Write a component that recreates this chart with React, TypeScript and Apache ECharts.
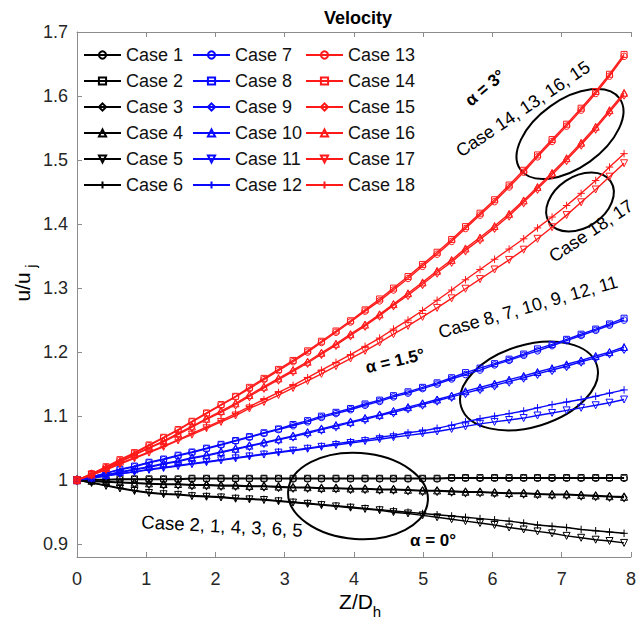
import React, { useEffect, useRef } from 'react';
import * as echarts from 'echarts';

// Z/Dh positions of the plotted points
const zValues = [0, 0.21, 0.42, 0.62, 0.83, 1.04, 1.25, 1.46, 1.66, 1.87, 2.08, 2.29, 2.49, 2.70, 2.91, 3.12, 3.33, 3.53, 3.74, 3.95, 4.16, 4.37, 4.57, 4.78, 4.99, 5.20, 5.41, 5.61, 5.82, 6.03, 6.24, 6.45, 6.65, 6.86, 7.07, 7.28, 7.49, 7.69, 7.90];

// alpha = 0 deg (black)
const case1 = [1.000, 1.000, 1.000, 1.001, 1.001, 1.001, 1.001, 1.001, 1.002, 1.002, 1.002, 1.002, 1.002, 1.002, 1.002, 1.002, 1.002, 1.002, 1.002, 1.002, 1.002, 1.002, 1.002, 1.002, 1.002, 1.002, 1.003, 1.003, 1.003, 1.003, 1.003, 1.003, 1.003, 1.003, 1.003, 1.003, 1.003, 1.003, 1.003];
const case2 = [1.000, 1.001, 1.001, 1.002, 1.002, 1.002, 1.002, 1.002, 1.003, 1.003, 1.003, 1.003, 1.003, 1.003, 1.003, 1.003, 1.003, 1.003, 1.003, 1.003, 1.003, 1.003, 1.003, 1.003, 1.003, 1.003, 1.004, 1.004, 1.004, 1.004, 1.004, 1.004, 1.004, 1.004, 1.004, 1.004, 1.004, 1.004, 1.004];
const case3 = [1.000, 0.998, 0.997, 0.996, 0.995, 0.994, 0.993, 0.993, 0.992, 0.992, 0.991, 0.991, 0.990, 0.990, 0.989, 0.988, 0.988, 0.987, 0.987, 0.986, 0.986, 0.985, 0.985, 0.984, 0.983, 0.983, 0.982, 0.981, 0.981, 0.980, 0.979, 0.979, 0.978, 0.977, 0.977, 0.976, 0.975, 0.974, 0.973];
const case4 = [1.000, 0.999, 0.998, 0.997, 0.996, 0.995, 0.994, 0.994, 0.993, 0.993, 0.992, 0.992, 0.991, 0.991, 0.990, 0.989, 0.989, 0.988, 0.988, 0.987, 0.987, 0.986, 0.986, 0.985, 0.984, 0.984, 0.983, 0.982, 0.982, 0.981, 0.980, 0.980, 0.979, 0.978, 0.978, 0.977, 0.976, 0.975, 0.974];
const case5 = [1.000, 0.996, 0.991, 0.987, 0.983, 0.980, 0.978, 0.977, 0.975, 0.974, 0.973, 0.971, 0.970, 0.969, 0.967, 0.965, 0.963, 0.961, 0.959, 0.957, 0.955, 0.953, 0.950, 0.948, 0.945, 0.942, 0.939, 0.936, 0.933, 0.930, 0.926, 0.923, 0.920, 0.917, 0.913, 0.910, 0.907, 0.905, 0.902];
const case6 = [1.000, 0.996, 0.992, 0.988, 0.984, 0.981, 0.979, 0.978, 0.976, 0.975, 0.974, 0.972, 0.971, 0.970, 0.968, 0.966, 0.964, 0.962, 0.960, 0.958, 0.956, 0.954, 0.952, 0.950, 0.948, 0.946, 0.944, 0.942, 0.940, 0.938, 0.936, 0.933, 0.930, 0.928, 0.926, 0.923, 0.921, 0.919, 0.917];

// alpha = 1.5 deg (blue)
const case7 = [1.000, 1.005, 1.011, 1.016, 1.021, 1.027, 1.032, 1.038, 1.043, 1.049, 1.055, 1.061, 1.067, 1.073, 1.079, 1.085, 1.091, 1.098, 1.104, 1.110, 1.117, 1.123, 1.130, 1.136, 1.143, 1.150, 1.158, 1.165, 1.172, 1.180, 1.187, 1.195, 1.202, 1.210, 1.218, 1.226, 1.234, 1.242, 1.250];
const case8 = [1.000, 1.005, 1.011, 1.017, 1.022, 1.028, 1.033, 1.039, 1.044, 1.050, 1.056, 1.062, 1.068, 1.074, 1.080, 1.087, 1.093, 1.100, 1.106, 1.112, 1.119, 1.125, 1.132, 1.138, 1.145, 1.152, 1.160, 1.168, 1.175, 1.182, 1.189, 1.197, 1.205, 1.212, 1.220, 1.228, 1.236, 1.244, 1.253];
const case9 = [1.000, 1.004, 1.008, 1.012, 1.016, 1.020, 1.025, 1.029, 1.034, 1.038, 1.043, 1.048, 1.053, 1.058, 1.063, 1.068, 1.073, 1.079, 1.084, 1.090, 1.095, 1.101, 1.106, 1.112, 1.118, 1.124, 1.130, 1.136, 1.142, 1.148, 1.154, 1.160, 1.166, 1.172, 1.178, 1.185, 1.191, 1.198, 1.205];
const case10 = [1.000, 1.004, 1.008, 1.013, 1.017, 1.021, 1.026, 1.030, 1.035, 1.039, 1.044, 1.049, 1.054, 1.059, 1.064, 1.069, 1.075, 1.080, 1.086, 1.091, 1.097, 1.102, 1.108, 1.114, 1.120, 1.126, 1.132, 1.139, 1.145, 1.151, 1.157, 1.163, 1.169, 1.175, 1.181, 1.187, 1.194, 1.200, 1.208];
const case11 = [1.000, 1.003, 1.007, 1.010, 1.013, 1.016, 1.019, 1.022, 1.025, 1.028, 1.031, 1.034, 1.037, 1.040, 1.043, 1.046, 1.049, 1.052, 1.055, 1.058, 1.061, 1.064, 1.067, 1.070, 1.073, 1.076, 1.080, 1.084, 1.088, 1.091, 1.094, 1.097, 1.101, 1.105, 1.109, 1.113, 1.117, 1.121, 1.126];
const case12 = [1.000, 1.003, 1.007, 1.010, 1.013, 1.017, 1.020, 1.023, 1.026, 1.029, 1.032, 1.035, 1.038, 1.041, 1.044, 1.047, 1.050, 1.053, 1.057, 1.060, 1.063, 1.067, 1.070, 1.074, 1.077, 1.081, 1.086, 1.091, 1.096, 1.100, 1.104, 1.108, 1.113, 1.118, 1.122, 1.126, 1.131, 1.136, 1.141];

// alpha = 3 deg (red)
const case13 = [1.000, 1.010, 1.020, 1.031, 1.042, 1.054, 1.066, 1.078, 1.091, 1.104, 1.117, 1.130, 1.143, 1.157, 1.171, 1.185, 1.200, 1.215, 1.231, 1.247, 1.264, 1.280, 1.297, 1.315, 1.334, 1.353, 1.373, 1.393, 1.414, 1.435, 1.458, 1.481, 1.505, 1.529, 1.553, 1.578, 1.604, 1.631, 1.662];
const case14 = [1.000, 1.010, 1.021, 1.032, 1.043, 1.055, 1.067, 1.079, 1.092, 1.105, 1.118, 1.131, 1.145, 1.159, 1.173, 1.187, 1.202, 1.217, 1.233, 1.249, 1.266, 1.283, 1.300, 1.318, 1.337, 1.356, 1.376, 1.396, 1.417, 1.438, 1.461, 1.484, 1.508, 1.532, 1.556, 1.581, 1.607, 1.634, 1.665];
const case15 = [1.000, 1.009, 1.018, 1.028, 1.039, 1.050, 1.060, 1.071, 1.083, 1.095, 1.106, 1.118, 1.131, 1.144, 1.157, 1.170, 1.183, 1.197, 1.211, 1.226, 1.241, 1.257, 1.273, 1.289, 1.306, 1.324, 1.341, 1.359, 1.376, 1.394, 1.413, 1.434, 1.455, 1.477, 1.500, 1.524, 1.549, 1.575, 1.602];
const case16 = [1.000, 1.009, 1.019, 1.029, 1.040, 1.051, 1.061, 1.073, 1.084, 1.096, 1.108, 1.120, 1.133, 1.146, 1.159, 1.172, 1.185, 1.199, 1.213, 1.228, 1.243, 1.259, 1.275, 1.292, 1.309, 1.327, 1.344, 1.362, 1.379, 1.397, 1.416, 1.437, 1.458, 1.480, 1.503, 1.527, 1.552, 1.578, 1.605];
const case17 = [1.000, 1.008, 1.016, 1.025, 1.034, 1.043, 1.052, 1.062, 1.071, 1.081, 1.091, 1.101, 1.112, 1.122, 1.133, 1.144, 1.155, 1.166, 1.178, 1.190, 1.202, 1.215, 1.228, 1.241, 1.255, 1.269, 1.284, 1.299, 1.314, 1.329, 1.344, 1.360, 1.377, 1.395, 1.414, 1.434, 1.454, 1.474, 1.495];
const case18 = [1.000, 1.008, 1.017, 1.026, 1.035, 1.044, 1.053, 1.063, 1.073, 1.083, 1.093, 1.104, 1.115, 1.126, 1.137, 1.148, 1.160, 1.172, 1.184, 1.196, 1.209, 1.222, 1.236, 1.250, 1.265, 1.281, 1.297, 1.313, 1.329, 1.345, 1.361, 1.377, 1.394, 1.411, 1.429, 1.448, 1.468, 1.489, 1.510];

const caseNames = ['Case 1', 'Case 2', 'Case 3', 'Case 4', 'Case 5', 'Case 6', 'Case 7', 'Case 8', 'Case 9', 'Case 10', 'Case 11', 'Case 12', 'Case 13', 'Case 14', 'Case 15', 'Case 16', 'Case 17', 'Case 18'];
const caseValues = [case1, case2, case3, case4, case5, case6, case7, case8, case9, case10, case11, case12, case13, case14, case15, case16, case17, case18];

const xTicks = [0, 8];
const yRange = [0.88, 1.7];

const FONT = "'Liberation Sans', Arial, Helvetica, sans-serif";
const groupColors = ['#000000', '#0a0aff', '#ff1a1a'];
const PLUS = 'path://M5,0L5,10M0,5L10,5';
const DOWN = 'path://M0,0L10,0L5,9Z';
const markerShapes = ['circle', 'rect', 'diamond', 'triangle', DOWN, PLUS];
const markerSizes: any[] = [6.5, 6, [6, 8.5], 7, 7, 7.5];

function txt(text: string, x: number, y: number, deg: number, size: number, bold = false) {
  return {
    type: 'text',
    x,
    y,
    rotation: (deg * Math.PI) / 180,
    silent: true,
    style: {
      text,
      x: 0,
      y: 0,
      font: `${bold ? 'bold ' : ''}${size}px ${FONT}`,
      fill: '#000',
      align: 'center',
      verticalAlign: 'middle',
      textAlign: 'center',
      textVerticalAlign: 'middle',
    },
  };
}

function ell(cx: number, cy: number, rx: number, ry: number, deg: number) {
  return {
    type: 'ellipse',
    x: cx,
    y: cy,
    rotation: (deg * Math.PI) / 180,
    silent: true,
    shape: { cx: 0, cy: 0, rx, ry },
    style: { fill: 'none', stroke: '#000', lineWidth: 2 },
  };
}

export default function App() {
  const ref = useRef<HTMLDivElement>(null);

  useEffect(() => {
    if (!ref.current) return;
    const chart = echarts.init(ref.current, undefined, { renderer: 'svg' });

    const series = caseNames.map((name, i) => {
      const color = groupColors[Math.floor(i / 6)];
      const k = i % 6;
      return {
        type: 'line',
        name,
        data: zValues.map((z, j) => [z, caseValues[i][j]]),
        symbol: markerShapes[k],
        symbolSize: markerSizes[k],
        showSymbol: true,
        itemStyle: { color: 'rgba(0,0,0,0)', borderColor: color, borderWidth: 1 },
        lineStyle: { color, width: 1.4 },
        silent: true,
        z: 2 + Math.floor(i / 6),
      };
    });

    const legends = [0, 1, 2].map((col) => ({
      data: caseNames.slice(col * 6, col * 6 + 6),
      orient: 'vertical',
      left: [83, 192, 305][col],
      top: 45,
      padding: 0,
      itemWidth: 37,
      itemHeight: 9,
      itemGap: 6,
      selectedMode: false,
      textStyle: { fontSize: 18, lineHeight: 20, color: '#111', fontFamily: FONT },
    }));

    const axisColor = '#8c8c8c';
    const option: any = {
      animation: false,
      textStyle: { fontFamily: FONT },
      grid: { left: 77, right: -2, top: 32, bottom: 75, containLabel: false },
      legend: legends,
      xAxis: [
        {
          type: 'value',
          min: xTicks[0],
          max: xTicks[1],
          interval: 1,
          axisLine: { show: true, lineStyle: { color: axisColor, width: 1 } },
          axisTick: { show: true, inside: true, length: 5, lineStyle: { color: axisColor } },
          axisLabel: { fontSize: 18, color: '#262626', margin: 13, fontFamily: FONT },
          splitLine: { show: false },
        },
        {
          type: 'value',
          position: 'top',
          min: xTicks[0],
          max: xTicks[1],
          interval: 1,
          axisLine: { show: true, onZero: false, lineStyle: { color: axisColor, width: 1 } },
          axisTick: { show: true, inside: true, length: 5, lineStyle: { color: axisColor } },
          axisLabel: { show: false },
          splitLine: { show: false },
        },
      ],
      yAxis: {
        type: 'value',
        min: yRange[0],
        max: yRange[1],
        splitNumber: 8,
        axisLine: { show: true, lineStyle: { color: axisColor, width: 1 } },
        axisTick: { show: true, inside: true, length: 5, lineStyle: { color: axisColor } },
        axisLabel: {
          fontSize: 18,
          color: '#262626',
          margin: 9,
          padding: [5, 0, 0, 0],
          fontFamily: FONT,
          showMinLabel: false,
          formatter: (v: number) => {
            const t = Math.round(v * 10);
            if (Math.abs(v * 10 - t) > 1e-6) return '';
            return t % 10 === 0 ? String(t / 10) : (t / 10).toFixed(1);
          },
        },
        splitLine: { show: false },
      },
      series,
      graphic: [
        txt('Velocity', 358, 18, 0, 18, true),
        // x-axis title Z/D_h
        txt('Z/D', 356, 601, 0, 21),
        txt('h', 377, 611, 0, 15),
        // y-axis title u/u_j
        {
          type: 'group',
          x: 22,
          y: 287,
          rotation: Math.PI / 2,
          silent: true,
          children: [txt('u/u', 0, 0, 0, 21), txt('j', 21, 8, 0, 15)],
        },
        txt('\u03b1 = 3\u00b0', 485, 88, 40, 17, true),
        txt('Case 14, 13, 16, 15', 523, 109, 34, 18),
        ell(570, 134, 61, 34, 35.6),
        ell(580, 202, 37, 25.5, 34),
        txt('Case 18, 17', 591, 231, 34, 18),
        txt('Case 8, 7, 10, 9, 12, 11', 528, 307, 16, 18),
        txt('\u03b1 = 1.5\u00b0', 395, 361, 13, 17, true),
        ell(529, 386, 71, 41, 17),
        ell(358, 496, 70, 43, -4),
        txt('Case 2, 1, 4, 3, 6, 5', 222, 526, -3, 18.5),
        txt('\u03b1 = 0\u00b0', 433, 540, 0, 17, true),
      ],
    };

    chart.setOption(option);
    return () => chart.dispose();
  }, []);

  return (
    <div
      ref={ref}
      style={{ position: 'absolute', left: 0, top: 0, width: 639, height: 632, background: '#fff' }}
    />
  );
}
